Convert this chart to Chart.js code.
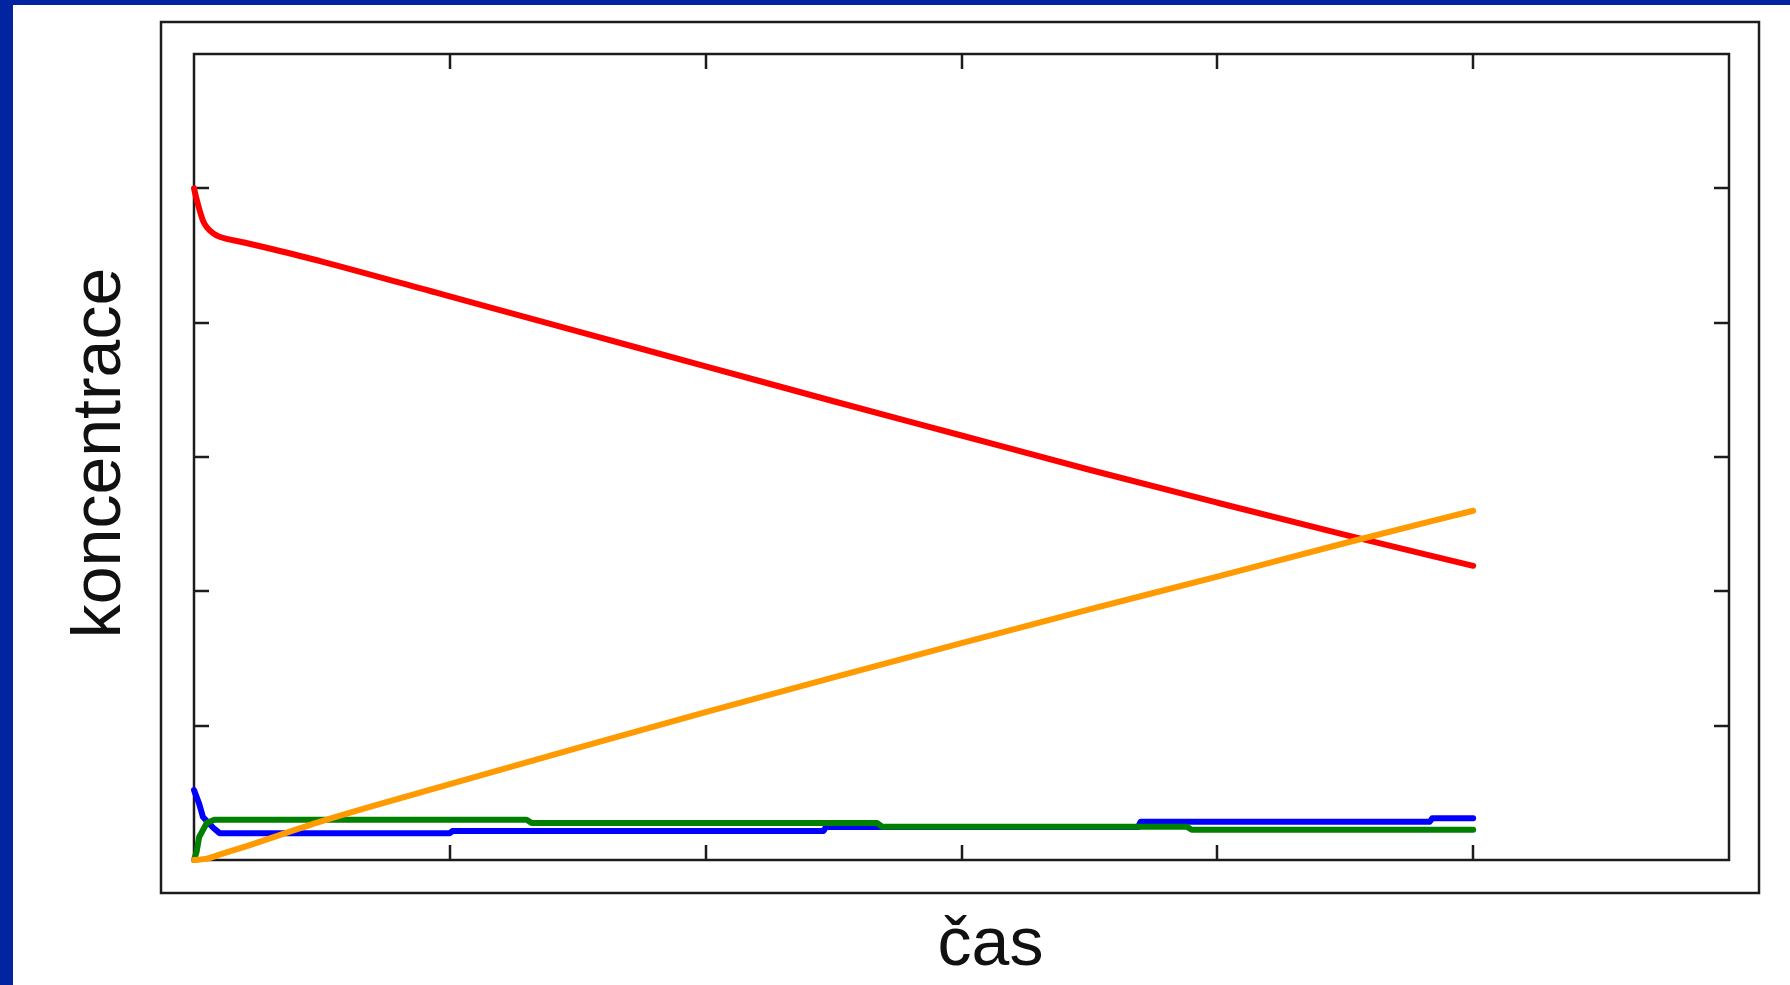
<!DOCTYPE html>
<html>
<head>
<meta charset="utf-8">
<script src="https://cdn.jsdelivr.net/npm/chart.js@4"></script>
<style>
  html, body { margin: 0; padding: 0; background: #fff; overflow: hidden; }
  #wrap { position: relative; width: 1790px; height: 985px; }
  .strip { position: absolute; background: #0324a0; }
  #stripLeft { left: 0; top: 0; width: 13px; height: 985px; }
  #stripTop { left: 0; top: 0; width: 1790px; height: 5px; }
  canvas { position: absolute; left: 0; top: 0; }
</style>
</head>
<body>
<div id="wrap">
  <div class="strip" id="stripLeft"></div>
  <div class="strip" id="stripTop"></div>
  <canvas id="chart" width="1790" height="985"></canvas>
</div>
<script>
// Axis labels and tick positions (ticks carry no labels)
const xTitle = 'čas';
const yTitle = 'koncentrace';
const timeTicks = [1, 2, 3, 4, 5];
const concTicks = [1, 2, 3, 4, 5];

// Substrate (red): fast initial drop, then steady decline
const redT = [0, 0.01, 0.02, 0.035, 0.05, 0.075, 0.1, 0.2, 0.3, 0.5, 1, 1.5, 2, 2.5, 3, 3.5, 4, 4.5, 5];
const redC = [5.0, 4.92, 4.85, 4.76, 4.71, 4.665, 4.64, 4.595, 4.55, 4.455, 4.195, 3.935, 3.675, 3.415, 3.16, 2.905, 2.66, 2.42, 2.19];

// Product (orange)
const orangeT = [0, 0.05, 0.1, 0.2, 0.5, 1, 1.5, 2, 2.5, 3, 3.5, 4, 4.5, 5];
const orangeC = [0, 0.01, 0.04, 0.1, 0.29, 0.565, 0.835, 1.10, 1.36, 1.615, 1.865, 2.11, 2.36, 2.60];

// Intermediate (blue): starts high, settles to a near-steady level
const blueT = [0, 0.02, 0.035, 0.075, 0.1, 1.0, 1.01, 2.46, 2.47, 3.69, 3.70, 4.83, 4.84, 5];
const blueC = [0.52, 0.42, 0.32, 0.24, 0.20, 0.20, 0.215, 0.215, 0.245, 0.245, 0.285, 0.285, 0.31, 0.31];

// Intermediate (green): builds up from zero, then near-steady level
const greenT = [0, 0.01, 0.02, 0.05, 0.08, 1.3, 1.32, 2.67, 2.69, 3.88, 3.9, 5];
const greenC = [0, 0.06, 0.17, 0.275, 0.30, 0.30, 0.275, 0.275, 0.248, 0.248, 0.225, 0.225];

const toPoints = (ts, cs) => ts.map((t, i) => ({ x: t, y: cs[i] }));

const lineStyle = {
  borderWidth: 6,
  pointRadius: 0,
  tension: 0,
  fill: false,
  borderCapStyle: 'round',
  borderJoinStyle: 'round',
  clip: false
};

// Frames, inward tick marks and axis titles
const framePlugin = {
  id: 'frame',
  beforeDatasetsDraw(chart) {
    const { ctx, chartArea: a, scales: { x, y } } = chart;
    ctx.save();
    ctx.strokeStyle = '#1c1c1c';
    ctx.lineWidth = 2.5;
    // plot box
    ctx.strokeRect(a.left, a.top, a.right - a.left, a.bottom - a.top);
    // outer box
    ctx.strokeRect(a.left - 33, a.top - 32, a.right - a.left + 63, a.bottom - a.top + 65);
    // tick marks pointing inward on all four sides
    const len = 15;
    ctx.beginPath();
    timeTicks.forEach(v => {
      const px = Math.round(x.getPixelForValue(v));
      ctx.moveTo(px, a.bottom); ctx.lineTo(px, a.bottom - len);
      ctx.moveTo(px, a.top); ctx.lineTo(px, a.top + len);
    });
    concTicks.forEach(v => {
      const py = Math.round(y.getPixelForValue(v));
      ctx.moveTo(a.left, py); ctx.lineTo(a.left + len, py);
      ctx.moveTo(a.right, py); ctx.lineTo(a.right - len, py);
    });
    ctx.stroke();

    // axis titles
    ctx.fillStyle = '#111';
    ctx.font = '68px "Liberation Sans", Arial, sans-serif';
    ctx.textAlign = 'center';
    ctx.textBaseline = 'alphabetic';
    ctx.fillText(xTitle, (a.left + a.right) / 2 + 29, a.bottom + 105);
    ctx.translate(a.left - 74, (a.top + a.bottom) / 2 - 4);
    ctx.rotate(-Math.PI / 2);
    ctx.fillText(yTitle, 0, 0);
    ctx.restore();
  }
};

new Chart(document.getElementById('chart'), {
  type: 'line',
  data: {
    datasets: [
      { label: 'P', data: toPoints(orangeT, orangeC), borderColor: '#ff9a00', order: 0, ...lineStyle, cubicInterpolationMode: 'monotone' },
      { label: 'A', data: toPoints(redT, redC), borderColor: '#ff0000', order: 1, ...lineStyle, cubicInterpolationMode: 'monotone' },
      { label: 'C', data: toPoints(greenT, greenC), borderColor: '#008000', order: 2, ...lineStyle },
      { label: 'B', data: toPoints(blueT, blueC), borderColor: '#0000ff', order: 3, ...lineStyle }
    ]
  },
  options: {
    responsive: false,
    animation: false,
    events: [],
    layout: { padding: { left: 194, top: 54, right: 61, bottom: 125 } },
    plugins: { legend: { display: false }, tooltip: { enabled: false } },
    scales: {
      x: { type: 'linear', min: 0, max: 6, display: false },
      y: { type: 'linear', min: 0, max: 6, display: false }
    }
  },
  plugins: [framePlugin]
});
</script>
</body>
</html>
